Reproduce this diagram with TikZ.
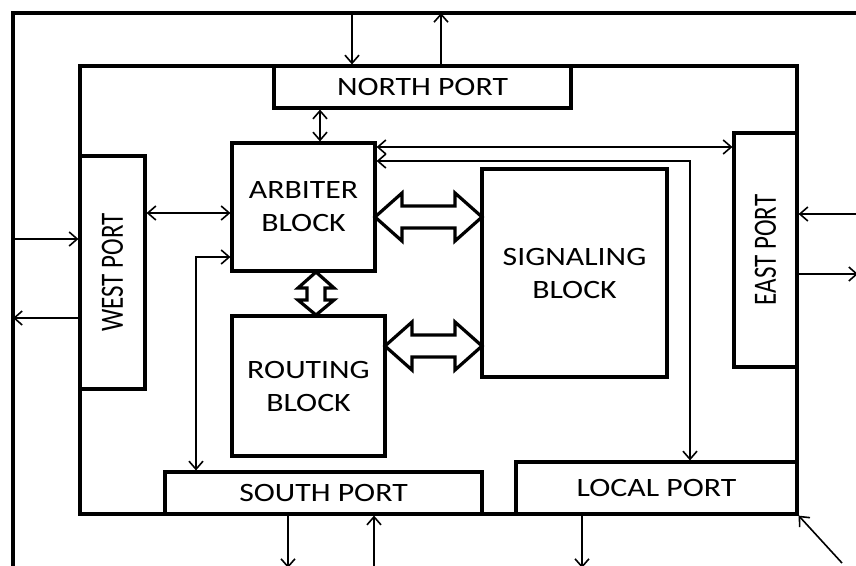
\documentclass[tikz,border=0pt]{standalone}
\usepackage{fontspec}
\setmainfont[FakeStretch=1.2]{Carlito}
\newfontfamily\rotfont{Carlito}
\usetikzlibrary{arrows.meta,calc}
\begin{document}
\begin{tikzpicture}[x=1pt,y=-1pt,
  thickline/.style={line width=3.2pt},
  box/.style={draw,line width=3.2pt,fill=white,inner sep=0pt,align=center,
    font=\fontsize{26.5}{33}\selectfont},
  arr/.style={line width=1.6pt,-{Straight Barb[length=8pt,width=14pt,line width=1.6pt]}},
  arr2/.style={line width=1.6pt,{Straight Barb[length=8pt,width=14pt,line width=1.6pt]}-{Straight Barb[length=8pt,width=14pt,line width=1.6pt]}},
  hollow/.style={draw,line width=3.2pt,fill=white,line join=miter}]
\useasboundingbox (0,0) rectangle (856,565);
% outer frame (partly outside the picture)
\draw[thickline] (13,575) -- (13,13) -- (870,13);
% inner frame
\draw[thickline] (80,66) rectangle (797,514);
% blocks
\node[box,minimum width=297pt,minimum height=42pt] (N) at (422.5,87) {NORTH PORT};
\node[box,minimum width=143pt,minimum height=128pt] (A) at (303.5,207) {ARBITER\\BLOCK};
\node[box,minimum width=65pt,minimum height=233pt] (W) at (112.5,272.5) {};
\node[rotate=90,inner sep=0pt,font=\rotfont\fontsize{25}{30}\selectfont] at (W.center) {\scalebox{1}[1.3]{WEST PORT}};
\node[box,minimum width=153pt,minimum height=140pt] (R) at (308.5,386) {ROUTING\\BLOCK};
\node[box,minimum width=185pt,minimum height=208pt] (S) at (574.5,273) {SIGNALING\\BLOCK};
\node[box,minimum width=63pt,minimum height=234pt] (E) at (765.5,250) {};
\node[rotate=90,inner sep=0pt,font=\rotfont\fontsize{25}{30}\selectfont] at (E.center) {\scalebox{1}[1.3]{EAST PORT}};
\node[box,minimum width=317pt,minimum height=42pt] (SP) at (323.5,493) {SOUTH PORT};
\node[box,minimum width=281pt,minimum height=52pt] (L) at (656.5,488) {LOCAL PORT};
% north side
\coordinate (t1) at (352,13);
\coordinate (t2) at (441,13);
\draw[arr] (t1) -- (t1 |- N.north);
\draw[arr] (t2 |- N.north) -- (t2);
\draw[arr2] (N.south -| 320,0) -- (A.north -| 320,0);
% west side
\coordinate (w1) at (13,239);
\coordinate (w2) at (13,318);
\draw[arr] (w1) -- (w1 -| W.west);
\draw[arr] (w2 -| W.west) -- (w2);
\draw[arr2] (W.east |- 0,213) -- (A.west |- 0,213);
% south port to arbiter
\coordinate (sc) at (196,257);
\draw[arr2] (SP.north -| sc) -- (sc) -- (A.west |- sc);
% arbiter to east port
\draw[arr2] (A.east |- 0,147) -- (E.west |- 0,147);
% local port to arbiter
\coordinate (lc) at (690,161);
\draw[arr2] (L.north -| lc) -- (lc) -- (A.east |- lc);
% east side
\coordinate (e1) at (858,214);
\coordinate (e2) at (858,274);
\draw[arr] (e1) -- (e1 -| E.east);
\draw[arr] (e2 -| E.east) -- (e2);
% south side
\coordinate (b1) at (288,568);
\coordinate (b2) at (374,568);
\coordinate (b3) at (582,568);
\draw[arr] (SP.south -| b1) -- (b1);
\draw[arr] (b2) -- (SP.south -| b2);
\draw[arr] (L.south -| b3) -- (b3);
\coordinate (d) at (842,563);
\draw[arr] (d) -- (L.south east);
% hollow double arrows
\draw[hollow] (375,217) -- (402,193) -- (402,206) -- (455,206) -- (455,193) -- (482,217)
  -- (455,241) -- (455,228) -- (402,228) -- (402,241) -- cycle;
\draw[hollow] (385,346) -- (412,322) -- (412,335) -- (455,335) -- (455,322) -- (482,346)
  -- (455,370) -- (455,357) -- (412,357) -- (412,370) -- cycle;
\draw[hollow] (316,272) -- (298,288) -- (307,288) -- (307,300) -- (298,300) -- (316,315)
  -- (334,300) -- (325,300) -- (325,288) -- (334,288) -- cycle;
\end{tikzpicture}
\end{document}
